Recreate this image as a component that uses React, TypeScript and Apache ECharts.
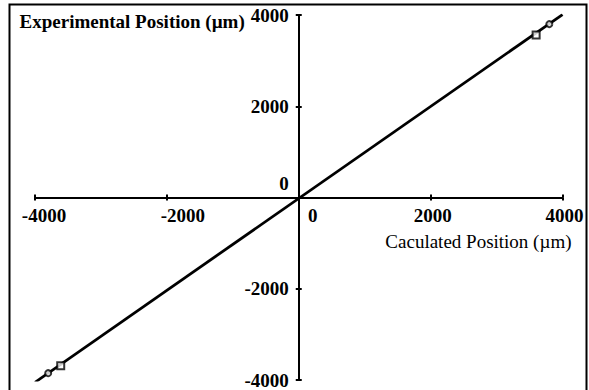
import React, { useEffect, useRef } from "react";
import * as echarts from "echarts";

// Tick values (axis ranges are built from these)
const xTicks = [-4000, -2000, 0, 2000, 4000];
const yTicks = [-4000, -2000, 0, 2000, 4000];

// Fitted line end points
const fitLineX = [-4000, 4000];
const fitLineY = [-4050, 4010];

// Square markers
const squareX = [3600, -3610];
const squareY = [3560, -3690];

// Circle markers
const circleX = [3800, -3800];
const circleY = [3800, -3850];

const xAxisTitle = "Caculated Position (µm)";
const yAxisTitle = "Experimental Position (µm)";

const FONT = "'Liberation Serif', 'Times New Roman', 'DejaVu Serif', serif";

// layout
const W = 589;
const H = 390;
const GRID = { left: 35, right: 26.5, top: 15, bottom: 10 };

export default function App() {
  const ref = useRef<HTMLDivElement>(null);

  useEffect(() => {
    if (!ref.current) return;
    const chart = echarts.init(ref.current, undefined, { renderer: "svg" });

    const labelBase = {
      fontFamily: FONT,
      fontSize: 19,
      fontWeight: "bold" as const,
      color: "#000",
    };
    const lineStyle = { color: "#000", width: 2 };
    const xMin = xTicks[0];
    const xMax = xTicks[xTicks.length - 1];
    const xInt = xTicks[1] - xTicks[0];
    const yMin = yTicks[0];
    const yMax = yTicks[yTicks.length - 1];
    const yInt = yTicks[1] - yTicks[0];

    // Place the axes through the origin (computed from the axis ranges)
    const gw = W - GRID.left - GRID.right;
    const gh = H - GRID.top - GRID.bottom;
    const zeroFromLeft = ((0 - xMin) / (xMax - xMin)) * gw;
    const zeroFromBottom = ((0 - yMin) / (yMax - yMin)) * gh;
    const offBottom = -zeroFromBottom;
    const offTop = -(gh - zeroFromBottom);
    const offLeft = -zeroFromLeft;
    const offRight = -(gw - zeroFromLeft);

    const zip = (a: number[], b: number[]) => a.map((v, i) => [v, b[i]]);

    chart.setOption({
      animation: false,
      backgroundColor: "#fff",
      grid: {
        ...GRID,
        containLabel: false,
        outerBoundsMode: "none",
      },
      graphic: [
        {
          type: "polyline",
          id: "frame",
          shape: {
            points: [
              [9.5, 395],
              [9.5, 4.5],
              [586.5, 4.5],
              [586.5, 395],
            ],
          },
          style: { stroke: "#000", lineWidth: 2, fill: null },
          silent: true,
          z: 100,
        },
      ],
      xAxis: [
        {
          type: "value",
          min: xMin,
          max: xMax,
          interval: xInt,
          position: "bottom",
          offset: offBottom,
          axisLine: { show: true, onZero: false, lineStyle },
          axisTick: { show: true, length: 3, lineStyle },
          splitLine: { show: false },
          axisLabel: {
            ...labelBase,
            margin: 8,
            formatter: (v: number) =>
              v === 0
                ? "{z|0}"
                : v === xMin
                ? `{e|${v}}`
                : v < 0
                ? `{n|${v}}`
                : `{p|${v}}`,
            rich: {
              z: { ...labelBase, padding: [0, 0, 0, 28] },
              e: { ...labelBase, padding: [0, 0, 0, 18] },
              n: { ...labelBase, padding: [0, 0, 0, 32] },
              p: { ...labelBase, padding: [0, 0, 0, 4] },
            },
          },
          name: xAxisTitle,
          nameLocation: "end",
          nameGap: 9,
          nameTextStyle: {
            fontFamily: FONT,
            fontSize: 19,
            color: "#000",
            align: "right",
            verticalAlign: "top",
            padding: [34, 0, 0, 0],
          },
        },
        {
          type: "value",
          min: xMin,
          max: xMax,
          interval: xInt,
          position: "top",
          offset: offTop,
          axisLine: { show: true, onZero: false, lineStyle },
          axisTick: { show: true, length: 3, lineStyle },
          splitLine: { show: false },
          axisLabel: { show: false },
        },
      ],
      yAxis: [
        {
          type: "value",
          min: yMin,
          max: yMax,
          interval: yInt,
          position: "left",
          offset: offLeft,
          axisLine: { show: true, onZero: false, lineStyle },
          axisTick: { show: true, length: 3, lineStyle },
          splitLine: { show: false },
          axisLabel: {
            ...labelBase,
            margin: 10,
            formatter: (v: number) => (v === 0 ? "{z|0}" : `${v}`),
            rich: {
              z: { ...labelBase, padding: [0, 0, 29, 0] },
            },
          },
          name: yAxisTitle,
          nameLocation: "end",
          nameGap: -6,
          nameTextStyle: {
            fontFamily: FONT,
            fontSize: 19,
            fontWeight: "bold",
            color: "#000",
            align: "right",
            verticalAlign: "middle",
            padding: [0, 54, 0, 0],
          },
        },
        {
          type: "value",
          min: yMin,
          max: yMax,
          interval: yInt,
          position: "right",
          offset: offRight,
          axisLine: { show: true, onZero: false, lineStyle },
          axisTick: { show: true, length: 3, lineStyle },
          splitLine: { show: false },
          axisLabel: { show: false },
        },
      ],
      series: [
        {
          type: "line",
          name: "Fit",
          data: zip(fitLineX, fitLineY),
          symbol: "none",
          lineStyle: { color: "#000", width: 2.8 },
          z: 3,
        },
        {
          type: "scatter",
          name: "Squares",
          data: zip(squareX, squareY),
          symbol: "rect",
          symbolSize: 7,
          itemStyle: { color: "#fff", borderColor: "#000", borderWidth: 2 },
          z: 4,
        },
        {
          type: "scatter",
          name: "Circles",
          data: zip(circleX, circleY),
          symbol: "circle",
          symbolSize: 6,
          itemStyle: { color: "#fff", borderColor: "#000", borderWidth: 2 },
          z: 4,
        },
      ],
    });

    return () => chart.dispose();
  }, []);

  return (
    <div
      ref={ref}
      style={{ position: "absolute", left: 0, top: 0, width: W, height: H }}
    />
  );
}
